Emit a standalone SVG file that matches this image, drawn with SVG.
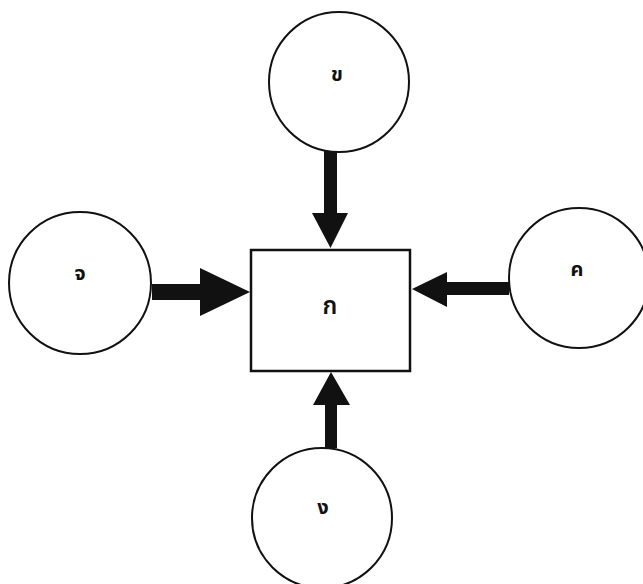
<svg xmlns="http://www.w3.org/2000/svg" width="643" height="584" viewBox="0 0 643 584">
<style>
.node{fill:#fff;stroke:#111;stroke-width:2}
.box{fill:#fff;stroke:#111;stroke-width:2.5}
.lbl{font-family:"Noto Sans Thai","Noto Sans","DejaVu Sans",sans-serif;font-size:20px;font-weight:bold;fill:#111;text-anchor:middle;dominant-baseline:central}
.arr{fill:#111;stroke:none}
</style>
<rect width="643" height="584" fill="#fff"/>
<g id="connectors">
<path class="arr" d="M324,150 H337 V213 H348 L330.5,248 L312,213 H324 Z"/>
<path class="arr" d="M152,284 H200 V268 L250,292 L200,316 V300 H152 Z"/>
<path class="arr" d="M509,282 H447 V272 L412,289 L447,307 V295 H509 Z"/>
<path class="arr" d="M325,448 H337 V405 H350 L331,372 L313,405 H325 Z"/>
</g>
<g id="node-ka">
<rect class="box" x="251" y="250" width="159" height="121"/>
<text class="lbl" x="330" y="307" style="font-size:24px;font-weight:600">ก</text>
</g>
<g id="node-kho">
<circle class="node" cx="339" cy="82" r="70"/>
<text class="lbl" x="337" y="75">ข</text>
</g>
<g id="node-cho">
<circle class="node" cx="80" cy="283" r="71"/>
<text class="lbl" x="80" y="274">จ</text>
</g>
<g id="node-kho-khwai">
<circle class="node" cx="579" cy="278" r="70"/>
<text class="lbl" x="577" y="270">ค</text>
</g>
<g id="node-ngo">
<circle class="node" cx="322" cy="518" r="70"/>
<text class="lbl" x="323" y="508">ง</text>
</g>
</svg>
